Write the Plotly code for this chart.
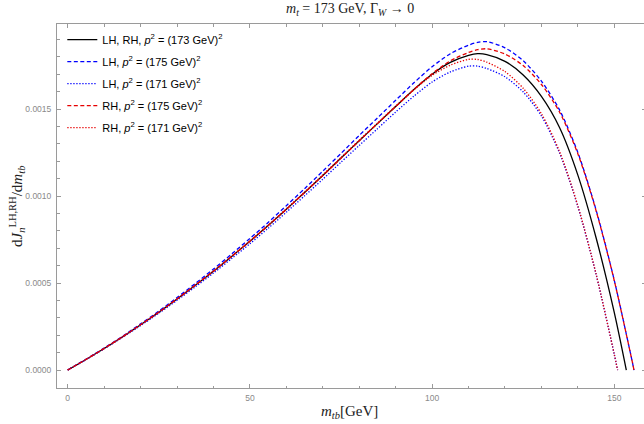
import plotly.graph_objects as go

# ---------------- data ----------------
x_173 = [0, 5, 10, 15, 20, 25, 30, 35, 40, 45, 50, 55, 60, 65, 70, 75, 80, 85, 90, 95,
         100, 105, 110, 112.5, 115, 120, 125, 130, 135, 140, 145, 150, 153.3]
y_173 = [0, 0.0000605, 0.000124, 0.00019, 0.00026, 0.000332, 0.000408, 0.000487, 0.000568,
         0.000653, 0.00074, 0.00083, 0.000924, 0.00102, 0.001118, 0.001218, 0.001318,
         0.001416, 0.001514, 0.001612, 0.0017, 0.001768, 0.001808, 0.001818, 0.001813,
         0.001774, 0.001695, 0.001572, 0.001392, 0.00112, 0.00076, 0.00033, 0]

x_175 = [0, 5, 10, 15, 20, 25, 30, 35, 40, 45, 50, 55, 60, 65, 70, 75, 80, 85, 90, 95,
         100, 105, 110, 112.5, 115, 120, 125, 130, 135, 140, 145, 150, 155, 155.4]
y_lh_175 = [0, 0.0000617, 0.0001263, 0.0001933, 0.0002652, 0.0003383, 0.0004163, 0.0004973,
            0.0005802, 0.0006669, 0.0007559, 0.0008477, 0.0009443, 0.0010422, 0.001143,
            0.001245, 0.0013481, 0.0014488, 0.00155, 0.0016503, 0.001743, 0.0018177,
            0.0018668, 0.001883, 0.001887, 0.0018516, 0.0017776, 0.00166, 0.0014935,
            0.0012496, 0.0009195, 0.000515, 0.0000406, 0]
y_rh_175 = [0, 0.0000607, 0.0001243, 0.0001903, 0.0002602, 0.0003323, 0.0004083, 0.0004873,
            0.0005682, 0.0006529, 0.0007399, 0.0008297, 0.0009233, 0.0010192, 0.001117,
            0.001217, 0.0013171, 0.0014158, 0.001514, 0.0016123, 0.001703, 0.0017767,
            0.0018248, 0.001841, 0.001846, 0.0018156, 0.0017496, 0.001641, 0.0014815,
            0.0012426, 0.0009155, 0.000513, 0.0000406, 0]

x_171 = [0, 5, 10, 15, 20, 25, 30, 35, 40, 45, 50, 55, 60, 65, 70, 75, 80, 85, 90, 95,
         100, 105, 110, 112.5, 115, 120, 125, 130, 135, 140, 145, 150, 150.9]
y_lh_171 = [0, 0.0000595, 0.0001219, 0.0001872, 0.0002552, 0.0003265, 0.0004007, 0.0004779,
            0.0005573, 0.0006405, 0.0007259, 0.0008144, 0.0009067, 0.001001, 0.0010964,
            0.0011943, 0.0012907, 0.0013867, 0.0014826, 0.0015736, 0.0016552, 0.001713,
            0.001746, 0.0017465, 0.001733, 0.001685, 0.001598, 0.00146, 0.001246,
            0.0009396, 0.00055, 0.0000895, 0]
y_rh_171 = [0, 0.0000605, 0.0001239, 0.0001902, 0.0002602, 0.0003325, 0.0004087, 0.0004879,
            0.0005693, 0.0006545, 0.0007419, 0.0008324, 0.0009267, 0.001023, 0.0011214,
            0.0012213, 0.0013207, 0.0014187, 0.0015166, 0.0016096, 0.0016932, 0.001752,
            0.001785, 0.0017845, 0.001769, 0.001715, 0.001619, 0.001473, 0.001254,
            0.0009436, 0.000552, 0.0000895, 0]

names = ["LH, RH, <i>p</i><sup>2</sup> = (173 GeV)<sup>2</sup>",
         "LH, <i>p</i><sup>2</sup> = (175 GeV)<sup>2</sup>",
         "LH, <i>p</i><sup>2</sup> = (171 GeV)<sup>2</sup>",
         "RH, <i>p</i><sup>2</sup> = (175 GeV)<sup>2</sup>",
         "RH, <i>p</i><sup>2</sup> = (171 GeV)<sup>2</sup>"]

x_ticks = [0, 50, 100, 150]
y_ticks = [0, 0.0005, 0.0010, 0.0015]
y_tick_text = ["0.0000", "0.0005", "0.0010", "0.0015"]

# ---------------- figure ----------------
BLUE = "rgb(0,0,255)"
RED = "rgb(230,0,0)"
DASH = "4px,2.5px"
DOT = "1.3px,1.7px"
LW = 1.3

series = [
    (x_173, y_173, names[0], "black", "solid"),
    (x_175, y_lh_175, names[1], BLUE, DASH),
    (x_171, y_lh_171, names[2], BLUE, DOT),
    (x_175, y_rh_175, names[3], RED, DASH),
    (x_171, y_rh_171, names[4], RED, DOT),
]

fig = go.Figure()
for i, (xs, ys, nm, col, dash) in enumerate(series):
    fig.add_trace(go.Scatter(
        x=xs, y=ys, mode="lines", name=nm, legendgroup=str(i),
        line=dict(color=col, width=LW, dash=dash, shape="spline", smoothing=0.8),
    ))

FRAME = "#9a9a9a"
TICKFONT = dict(family="Liberation Sans, Arial, sans-serif", size=8.5, color="#8a8a8a")

# the frame's right edge lies just past the window edge, as in the reference
fig.update_xaxes(
    range=[-2.94, 158.7], showgrid=False, zeroline=False,
    showline=True, linecolor=FRAME, linewidth=1, mirror="allticks",
    ticks="inside", ticklen=4, tickcolor=FRAME, tickwidth=1,
    tickvals=x_ticks, tickfont=TICKFONT, ticklabelstandoff=2,
    minor=dict(dtick=10, tick0=0, ticks="inside", ticklen=2.5, tickcolor=FRAME, showgrid=False),
)
fig.update_yaxes(
    range=[-0.0001034, 0.0019885], showgrid=False, zeroline=False,
    showline=True, linecolor=FRAME, linewidth=1, mirror="allticks",
    ticks="inside", ticklen=4, tickcolor=FRAME, tickwidth=1,
    tickvals=y_ticks, ticktext=y_tick_text, tickfont=TICKFONT, ticklabelstandoff=3,
    minor=dict(dtick=0.0001, tick0=0, ticks="inside", ticklen=2.5, tickcolor=FRAME, showgrid=False),
)

SERIF = "Liberation Serif, DejaVu Serif, serif"
fig.update_layout(
    width=646, height=424,
    margin=dict(l=57, r=0, t=24, b=36),
    paper_bgcolor="white", plot_bgcolor="white",
    showlegend=True,
    legend=dict(
        x=0.009, y=0.997, xanchor="left", yanchor="top",
        bgcolor="rgba(255,255,255,0)", borderwidth=0,
        font=dict(family="Liberation Sans, Arial, sans-serif", size=11, color="black"),
        traceorder="grouped", tracegroupgap=3,
    ),
    annotations=[
        dict(text="<i>m</i><sub><i>t</i></sub> = 173 GeV, Γ<sub><i>W</i></sub> → 0",
             xref="paper", yref="paper", x=0.497, y=1.0385, xanchor="center", yanchor="middle",
             showarrow=False, font=dict(family=SERIF, size=14, color="#222")),
        dict(text="<i>m</i><sub><i>tb</i></sub>[GeV]",
             xref="paper", yref="paper", x=0.497, y=-0.066, xanchor="center", yanchor="middle",
             showarrow=False, font=dict(family=SERIF, size=15, color="#222")),
        dict(text="d<i>J</i><sub><i>n</i></sub><sup>LH,RH</sup>/d<i>m</i><sub><i>tb</i></sub>",
             xref="paper", yref="paper", x=-0.068, y=0.5, xanchor="center", yanchor="middle",
             textangle=-90, showarrow=False, font=dict(family=SERIF, size=15, color="#222")),
    ],
)

fig.write_html(
    "out.html",
    config={"displayModeBar": False},
    post_script="document.body.style.margin='0';document.body.style.overflow='hidden';",
)
